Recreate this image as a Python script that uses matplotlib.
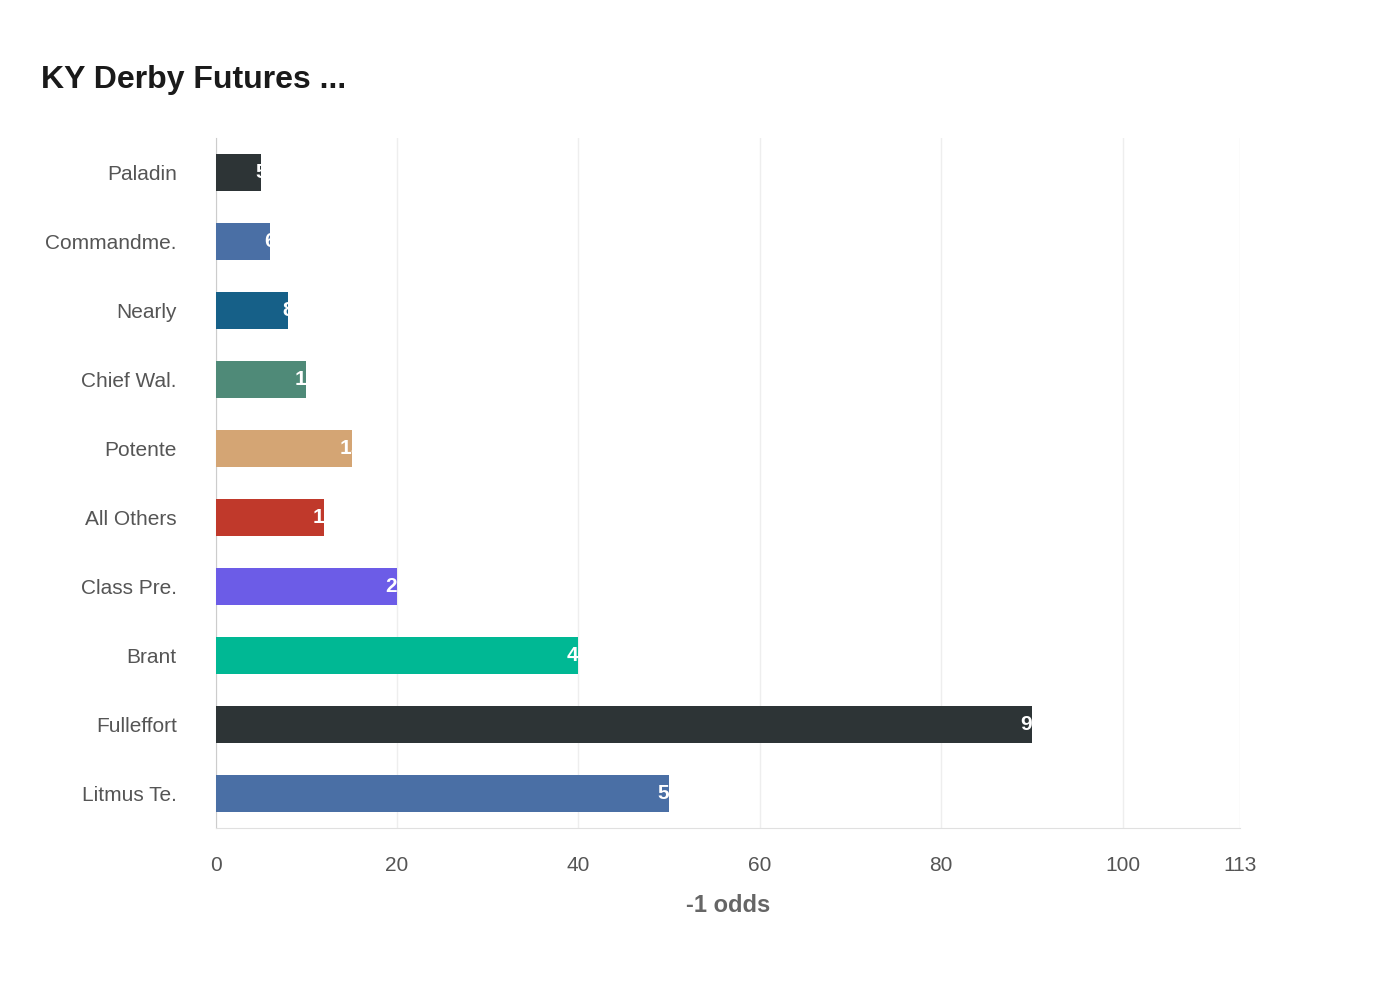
import matplotlib
matplotlib.use("Agg")
import matplotlib.pyplot as plt

plt.rcParams["font.family"] = ["Liberation Sans", "DejaVu Sans"]

horses = ["Paladin", "Commandme.", "Nearly", "Chief Wal.", "Potente",
          "All Others", "Class Pre.", "Brant", "Fulleffort", "Litmus Te."]
odds = [5, 6, 8, 10, 15, 12, 20, 40, 90, 50]
colors = ["#2d3436", "#4a6fa5", "#166088", "#4f8a78", "#d4a574",
          "#c0392b", "#6c5ce7", "#00b894", "#2d3436", "#4a6fa5"]

fig = plt.figure(figsize=(14, 10), dpi=100)
ax = fig.add_axes([0.154, 0.172, 0.732, 0.69])

ys = list(range(len(horses)))
bars = ax.barh(ys, odds, height=0.55, color=colors, zorder=3)
for b, v, y in zip(bars, odds, ys):
    t = ax.text(v, y, str(v), color="white", fontsize=15, fontweight="bold",
                ha="center", va="center", zorder=4)
    t.set_clip_path(b)

ax.set_ylim(len(horses) - 0.5, -0.5)
ax.set_xlim(0, 113)
ax.set_xticks([0, 20, 40, 60, 80, 100, 113])
ax.set_yticks(ys)
ax.set_yticklabels(horses)
ax.tick_params(axis="y", length=0, pad=28, labelsize=15, labelcolor="#555555")
ax.tick_params(axis="x", length=0, pad=20, labelsize=15, labelcolor="#555555")
ax.grid(axis="x", color="#eeeeee", linewidth=1, zorder=0)
for s in ["top", "right"]:
    ax.spines[s].set_visible(False)
ax.spines["left"].set_color("#cccccc")
ax.spines["bottom"].set_color("#e0e0e0")
ax.set_xlabel("-1 odds", fontsize=17, fontweight="bold", color="#666666", labelpad=14)

fig.text(0.029, 0.92, "KY Derby Futures ...", fontsize=23, fontweight="bold",
         color="#1a1a1a", va="center")

fig.savefig("out.png", dpi=100)
